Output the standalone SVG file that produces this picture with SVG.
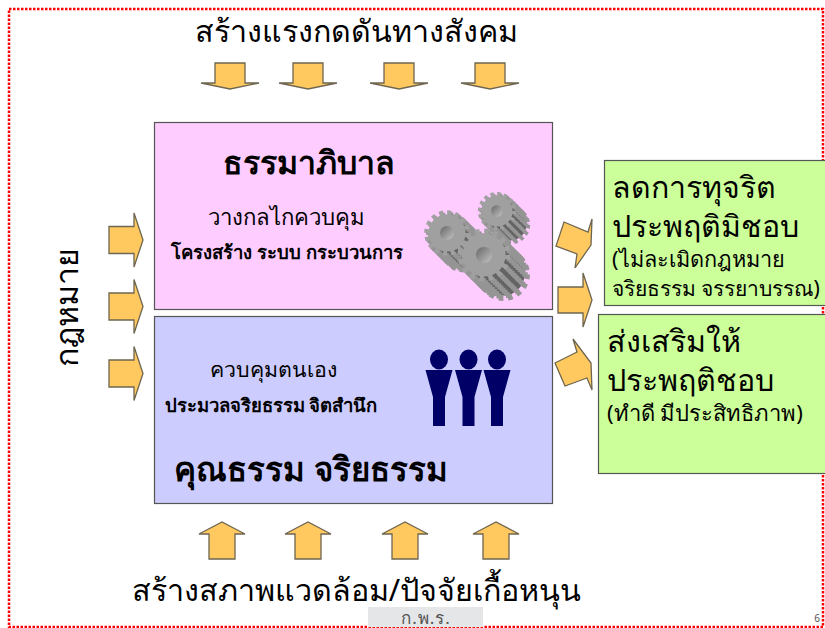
<svg xmlns="http://www.w3.org/2000/svg" xmlns:xlink="http://www.w3.org/1999/xlink" width="825" height="628" viewBox="0 0 825 628">
<style>
text{font-family:"Noto Sans","DejaVu Sans","Liberation Sans",sans-serif;fill:#000}
.arrow{fill:#ffc95f;stroke:#6e6650;stroke-width:1.3}
.box{stroke:#555;stroke-width:1.2}
.b{font-weight:bold}
.ly{fill:#646464}
.lt{fill:none;stroke:#959595;stroke-width:5;stroke-dasharray:4.3 4.3}
</style>
<defs>
<linearGradient id="hole" x1="0" y1="0" x2="1" y2="1"><stop offset="0" stop-color="#666"/><stop offset="1" stop-color="#c4c4c4"/></linearGradient>
<polygon id="down" class="arrow" points="-15,-14 15,-14 15,6 29,6 0,12 -29,6 -15,6"/>
<polygon id="up" class="arrow" points="-13,19 13,19 13,-6 23,-6 0,-18 -23,-6 -13,-6"/>
<polygon id="right" class="arrow" points="-17,-13.500 8,-13.500 8,-27 17,0 8,27 8,13.500 -17,13.500"/>
<g id="layer"><circle r="19.500" class="ly"/><circle r="22" class="lt"/></g>
<g id="gear">
<use xlink:href="#layer" href="#layer" x="18" y="18"/>
<use xlink:href="#layer" href="#layer" x="16" y="16"/>
<use xlink:href="#layer" href="#layer" x="14" y="14"/>
<use xlink:href="#layer" href="#layer" x="12" y="12"/>
<use xlink:href="#layer" href="#layer" x="10" y="10"/>
<use xlink:href="#layer" href="#layer" x="8" y="8"/>
<use xlink:href="#layer" href="#layer" x="6" y="6"/>
<use xlink:href="#layer" href="#layer" x="4" y="4"/>
<use xlink:href="#layer" href="#layer" x="2" y="2"/>
<circle r="20" fill="#a0a0a0"/>
<circle r="22" fill="none" stroke="#a0a0a0" stroke-width="5" stroke-dasharray="4.3 4.3"/>
<circle r="7.500" fill="url(#hole)"/>
</g>
<g id="person" fill="#000066">
<ellipse cx="0" cy="-26.500" rx="9" ry="10"/>
<path d="M-13.500,-16 H13.500 L6,11 V40 H-6 V11 Z"/>
</g>
</defs>
<rect x="9" y="9" width="814" height="618" fill="none" stroke="#ff0000" stroke-width="2.500" stroke-dasharray="2.500 1.500"/>
<g id="connectors">
<use xlink:href="#down" href="#down" x="230" y="77"/>
<use xlink:href="#down" href="#down" x="308" y="77"/>
<use xlink:href="#down" href="#down" x="399" y="77"/>
<use xlink:href="#down" href="#down" x="490" y="77"/>
<use xlink:href="#up" href="#up" x="222" y="540"/>
<use xlink:href="#up" href="#up" x="308" y="540"/>
<use xlink:href="#up" href="#up" x="405" y="540"/>
<use xlink:href="#up" href="#up" x="496" y="540"/>
<use xlink:href="#right" href="#right" x="126" y="240"/>
<use xlink:href="#right" href="#right" x="126" y="306.500"/>
<use xlink:href="#right" href="#right" x="126" y="373.500"/>
<polygon class="arrow" points="564,222 588,232 592,219 591,245 575,268 577,254 556,246"/>
<polygon class="arrow" points="558,287 583,287 583,273 592,300 583,327 583,313 558,313"/>
<polygon class="arrow" points="555,363 577,352 573,339 591,363 592,390 587,378 565,386"/>
</g>
<g id="node-governance">
<rect class="box" x="154.500" y="122.500" width="398" height="187" fill="#ffccff"/>
<text class="b" x="309" y="174" font-size="32" text-anchor="middle">ธรรมาภิบาล</text>
<text x="286.500" y="225" font-size="22.200" text-anchor="middle">วางกลไกควบคุม</text>
<text class="b" x="287" y="259" font-size="18.500" text-anchor="middle">โครงสร้าง ระบบ กระบวนการ</text>
<use xlink:href="#gear" href="#gear" transform="translate(497 211) scale(.78)"/>
<use xlink:href="#gear" href="#gear" transform="translate(447 233) scale(.93)"/>
<use xlink:href="#gear" href="#gear" transform="translate(484 255) scale(1.08)"/>
</g>
<g id="node-ethics">
<rect class="box" x="154.500" y="316.500" width="398" height="187" fill="#ccccff"/>
<text x="273" y="377" font-size="21.300" text-anchor="middle">ควบคุมตนเอง</text>
<text class="b" x="271" y="412" font-size="18.500" text-anchor="middle">ประมวลจริยธรรม จิตสำนึก</text>
<text class="b" x="311" y="481" font-size="33" text-anchor="middle">คุณธรรม จริยธรรม</text>
<use xlink:href="#person" href="#person" x="439" y="386"/>
<use xlink:href="#person" href="#person" x="468.500" y="386"/>
<use xlink:href="#person" href="#person" x="497" y="386"/>
</g>
<g id="node-reduce">
<rect class="box" x="604.500" y="160.500" width="225" height="145" fill="#ccff99"/>
<text x="612" y="198" font-size="30.300">ลดการทุจริต</text>
<text x="612" y="237" font-size="30.300">ประพฤติมิชอบ</text>
<text x="612" y="267" font-size="21.700">(ไม่ละเมิดกฎหมาย</text>
<text x="612" y="296" font-size="21">จริยธรรม จรรยาบรรณ)</text>
</g>
<g id="node-promote">
<rect class="box" x="598.500" y="314.500" width="230" height="159" fill="#ccff99"/>
<text x="607" y="352" font-size="30.400">ส่งเสริมให้</text>
<text x="607" y="391" font-size="30.400">ประพฤติชอบ</text>
<text x="607" y="421" font-size="22">(ทำดี มีประสิทธิภาพ)</text>
</g>
<g id="labels">
<text x="356.500" y="42" font-size="30.400" text-anchor="middle">สร้างแรงกดดันทางสังคม</text>
<text x="356.500" y="601" font-size="30.500" text-anchor="middle">สร้างสภาพแวดล้อม/ปัจจัยเกื้อหนุน</text>
<text transform="translate(78 307) rotate(-90)" font-size="32" text-anchor="middle">กฎหมาย</text>
<rect x="368" y="607" width="115" height="20" fill="#e4e6e8"/>
<text x="426" y="624" font-size="17" letter-spacing="1" style="fill:#555" text-anchor="middle">ก.พ.ร.</text>
<text x="817" y="622" font-size="10" style="fill:#555" text-anchor="middle">6</text>
</g>
</svg>
